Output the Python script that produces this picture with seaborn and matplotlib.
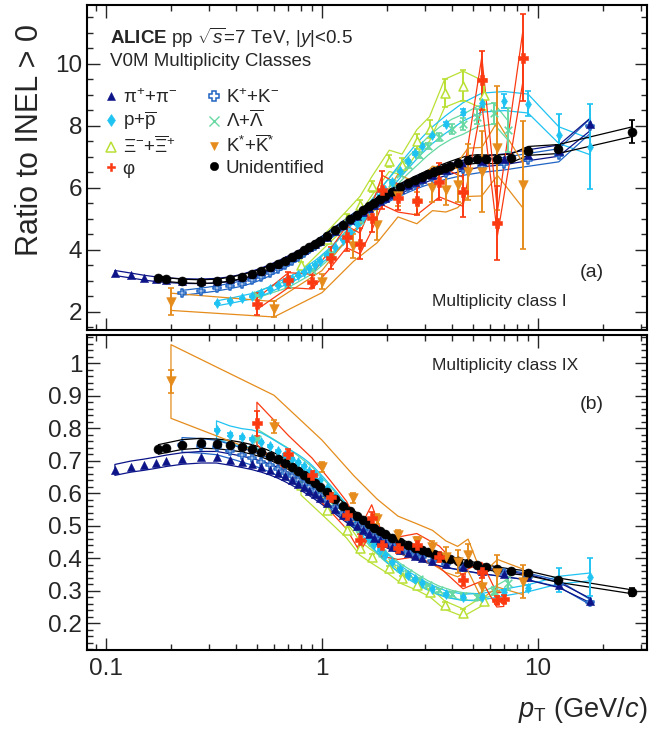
import numpy as np
import pandas as pd
import matplotlib
matplotlib.use("Agg")
import matplotlib.pyplot as plt
import seaborn as sns
from matplotlib.lines import Line2D
from matplotlib.ticker import FixedLocator, MultipleLocator, NullFormatter, LogLocator

# ---- data: class I (top) and class IX (bottom), ratio to INEL>0 ----
pi_pt = [0.11, 0.13, 0.15, 0.17, 0.19, 0.225, 0.275, 0.325, 0.375, 0.425, 0.475, 0.525, 0.575, 0.625,
         0.675, 0.725, 0.775, 0.825, 0.875, 0.925, 0.975, 1.05, 1.15, 1.25, 1.35, 1.45, 1.55, 1.65,
         1.75, 1.85, 1.95, 2.1, 2.3, 2.5, 2.7, 2.9, 3.25, 3.75, 4.5, 5.5, 7.0, 9.0, 12.5, 17.5]
pi_top = [3.25, 3.17, 3.10, 3.05, 3.02, 2.99, 2.98, 3.00, 3.05, 3.13, 3.23, 3.33, 3.44, 3.55,
          3.66, 3.77, 3.87, 3.98, 4.08, 4.18, 4.28, 4.42, 4.62, 4.80, 4.96, 5.10, 5.23, 5.35,
          5.46, 5.56, 5.66, 5.79, 5.95, 6.08, 6.19, 6.29, 6.42, 6.56, 6.72, 6.85, 6.92, 7.05, 7.20, 8.05]
pi_bot = [0.672, 0.682, 0.688, 0.694, 0.700, 0.707, 0.711, 0.711, 0.704, 0.697, 0.690, 0.682, 0.673, 0.663,
          0.652, 0.641, 0.630, 0.619, 0.608, 0.597, 0.586, 0.570, 0.551, 0.532, 0.515, 0.500, 0.487, 0.475,
          0.464, 0.455, 0.447, 0.436, 0.425, 0.416, 0.408, 0.401, 0.392, 0.382, 0.372, 0.362, 0.352, 0.342, 0.318, 0.270]

k_pt = [0.225, 0.275, 0.325, 0.375, 0.425, 0.475, 0.525, 0.575, 0.625, 0.675, 0.725, 0.775, 0.825,
        0.875, 0.925, 0.975, 1.05, 1.15, 1.25, 1.35, 1.45, 1.55, 1.65, 1.75, 1.85, 1.95,
        2.1, 2.3, 2.5, 2.7, 2.9, 3.25, 3.75, 4.5, 5.5, 7.0, 9.0, 12.5, 17.5]
k_top = [2.61, 2.68, 2.75, 2.83, 2.91, 3.01, 3.13, 3.26, 3.39, 3.52, 3.65, 3.78, 3.90,
         4.02, 4.13, 4.24, 4.40, 4.60, 4.78, 4.95, 5.10, 5.23, 5.35, 5.46, 5.56, 5.65,
         5.77, 5.91, 6.03, 6.13, 6.22, 6.34, 6.47, 6.60, 6.70, 6.78, 6.90, 7.05, 8.00]
k_bot = [0.749, 0.746, 0.741, 0.729, 0.718, 0.708, 0.697, 0.686, 0.675, 0.664, 0.653, 0.641, 0.630,
         0.618, 0.607, 0.596, 0.579, 0.559, 0.540, 0.522, 0.507, 0.493, 0.481, 0.470, 0.460, 0.451,
         0.440, 0.428, 0.418, 0.410, 0.403, 0.393, 0.383, 0.373, 0.363, 0.354, 0.344, 0.322, 0.265]

p_pt = [0.325, 0.375, 0.425, 0.475, 0.525, 0.575, 0.625, 0.675, 0.725, 0.775, 0.825, 0.875, 0.925,
        0.975, 1.05, 1.15, 1.25, 1.35, 1.45, 1.55, 1.65, 1.75, 1.85, 1.95, 2.1, 2.3, 2.5, 2.7, 2.9,
        3.25, 3.75, 4.5, 5.5, 7.0, 9.0, 12.5, 17.5]
p_top = [2.27, 2.35, 2.43, 2.50, 2.60, 2.72, 2.85, 2.97, 3.06, 3.17, 3.29, 3.40, 3.52,
         3.64, 3.83, 4.08, 4.33, 4.58, 4.83, 5.07, 5.30, 5.52, 5.73, 5.93, 6.20, 6.55, 6.85, 7.12, 7.36,
         7.70, 8.05, 8.45, 8.75, 8.80, 8.72, 7.70, 7.32]
p_top_err = [0.02, 0.02, 0.02, 0.02, 0.02, 0.02, 0.02, 0.02, 0.02, 0.02, 0.02, 0.02, 0.02,
             0.02, 0.02, 0.02, 0.02, 0.03, 0.03, 0.03, 0.03, 0.03, 0.03, 0.04, 0.04, 0.04, 0.05, 0.05, 0.05,
             0.06, 0.07, 0.09, 0.13, 0.22, 0.40, 0.67, 1.37]
p_bot = [0.795, 0.780, 0.772, 0.768, 0.759, 0.745, 0.731, 0.718, 0.706, 0.695, 0.683, 0.670, 0.655,
         0.640, 0.617, 0.588, 0.560, 0.533, 0.508, 0.485, 0.463, 0.443, 0.425, 0.409, 0.388, 0.366, 0.349,
         0.335, 0.323, 0.306, 0.290, 0.280, 0.282, 0.295, 0.308, 0.333, 0.343]
p_bot_err = [0.004, 0.004, 0.004, 0.003, 0.003, 0.003, 0.003, 0.003, 0.003, 0.003, 0.003, 0.003, 0.003,
             0.003, 0.003, 0.003, 0.003, 0.003, 0.003, 0.003, 0.003, 0.003, 0.003, 0.003, 0.003, 0.003, 0.003,
             0.003, 0.003, 0.003, 0.004, 0.004, 0.005, 0.007, 0.010, 0.036, 0.058]

lam_pt = [0.5, 0.7, 0.9, 1.1, 1.3, 1.5, 1.7, 1.9, 2.1, 2.3, 2.5, 2.8, 3.1, 3.5, 4.0, 4.5, 5.25, 6.25, 7.25]
lam_top = [2.55, 2.90, 3.35, 3.90, 4.45, 4.95, 5.40, 5.80, 6.15, 6.45, 6.72, 7.05, 7.35, 7.65, 7.90,
           8.05, 8.30, 8.40, 7.86]
lam_top_err = [0.02, 0.02, 0.03, 0.03, 0.04, 0.05, 0.05, 0.06, 0.07, 0.08, 0.09, 0.10, 0.11, 0.13, 0.16,
               0.20, 0.25, 0.35, 0.70]
lam_bot = [0.767, 0.710, 0.655, 0.595, 0.540, 0.490, 0.450, 0.415, 0.390, 0.370, 0.355, 0.335, 0.318,
           0.302, 0.290, 0.283, 0.280, 0.300, 0.323]
lam_bot_err = [0.004, 0.003, 0.003, 0.003, 0.003, 0.003, 0.003, 0.003, 0.003, 0.003, 0.004, 0.004, 0.004,
               0.005, 0.006, 0.007, 0.008, 0.012, 0.020]

xi_pt = [0.8, 1.05, 1.3, 1.5, 1.7, 2.05, 2.35, 2.75, 3.15, 3.7, 4.5, 5.6]
xi_top = [3.50, 4.35, 5.00, 5.45, 6.05, 6.87, 6.75, 7.50, 7.90, 9.05, 9.30, 9.00]
xi_top_err = [0.12, 0.12, 0.14, 0.15, 0.17, 0.20, 0.22, 0.25, 0.30, 0.45, 0.50, 0.50]
xi_bot = [0.626, 0.549, 0.487, 0.431, 0.405, 0.369, 0.338, 0.318, 0.297, 0.256, 0.233, 0.270]
xi_bot_err = [0.010, 0.008, 0.008, 0.007, 0.007, 0.007, 0.007, 0.007, 0.008, 0.009, 0.010, 0.015]

kst_pt = [0.2, 0.6, 1.0, 1.4, 1.8, 2.25, 2.75, 3.25, 3.75, 4.25, 4.75, 5.5, 6.5, 8.5]
kst_top = [2.32, 2.08, 2.97, 4.12, 4.80, 5.75, 5.50, 5.98, 5.93, 6.09, 6.50, 6.52, 7.27, 6.09]
kst_top_err = [0.43, 0.25, 0.25, 0.40, 0.50, 0.35, 0.35, 0.45, 0.50, 0.55, 0.90, 1.30, 2.00, 2.05]
kst_bot = [0.944, 0.805, 0.682, 0.585, 0.520, 0.473, 0.452, 0.434, 0.405, 0.390, 0.410, 0.313, 0.354, 0.328]
kst_bot_err = [0.035, 0.020, 0.015, 0.015, 0.015, 0.015, 0.015, 0.020, 0.030, 0.035, 0.035, 0.040, 0.055, 0.050]

phi_pt_top = [0.5, 0.7, 0.9, 1.1, 1.3, 1.5, 1.7, 1.9, 2.25, 2.75, 3.5, 4.5, 5.5, 6.5, 8.5]
phi_top = [2.25, 3.02, 2.97, 3.73, 4.42, 4.20, 5.02, 5.93, 5.67, 5.57, 6.20, 5.87, 9.47, 4.86, 10.2]
phi_top_err = [0.35, 0.25, 0.20, 0.35, 0.45, 0.50, 0.45, 0.60, 0.40, 0.45, 0.60, 0.80, 0.95, 1.20, 1.40]
phi_pt_bot = [0.5, 0.7, 0.9, 1.1, 1.3, 1.5, 1.7, 1.9, 2.25, 2.75, 3.5, 4.5, 5.5, 6.45, 6.95]
phi_bot = [0.815, 0.720, 0.656, 0.590, 0.533, 0.456, 0.523, 0.441, 0.431, 0.441, 0.405, 0.333, 0.359, 0.272, 0.274]
phi_bot_err = [0.038, 0.015, 0.012, 0.012, 0.015, 0.020, 0.020, 0.020, 0.015, 0.015, 0.015, 0.018, 0.020, 0.012, 0.012]

uid_pt = [0.175, 0.19, 0.225, 0.275, 0.325, 0.375, 0.425, 0.475, 0.525, 0.575, 0.625, 0.675, 0.725, 0.775,
          0.825, 0.875, 0.925, 0.975, 1.05, 1.15, 1.25, 1.35, 1.45, 1.55, 1.65, 1.75, 1.85, 1.95,
          2.1, 2.3, 2.5, 2.7, 2.9, 3.1, 3.3, 3.5, 3.7, 3.9, 4.25, 4.75, 5.25, 5.75, 6.5, 7.5, 9.0, 12.4, 27.3]
uid_top = [3.10, 3.04, 2.99, 2.97, 2.99, 3.05, 3.13, 3.22, 3.32, 3.43, 3.54, 3.65, 3.76, 3.87,
           3.98, 4.09, 4.19, 4.29, 4.44, 4.63, 4.81, 4.98, 5.13, 5.27, 5.40, 5.52, 5.63, 5.73,
           5.86, 6.01, 6.14, 6.25, 6.35, 6.44, 6.52, 6.59, 6.65, 6.71, 6.80, 6.90, 6.93, 6.92, 6.92, 6.95,
           7.19, 7.25, 7.81]
uid_top_err = [0, 0, 0, 0, 0, 0, 0, 0, 0, 0, 0, 0, 0, 0,
               0, 0, 0, 0, 0, 0, 0, 0, 0, 0, 0, 0, 0, 0,
               0, 0, 0, 0, 0, 0, 0, 0, 0, 0, 0.02, 0.02, 0.03, 0.03, 0.04, 0.05, 0.08, 0.12, 0.37]
uid_bot = [0.735, 0.740, 0.750, 0.754, 0.752, 0.748, 0.742, 0.735, 0.726, 0.716, 0.705, 0.693, 0.681, 0.669,
           0.656, 0.644, 0.632, 0.620, 0.603, 0.582, 0.562, 0.545, 0.530, 0.517, 0.505, 0.494, 0.484, 0.475,
           0.463, 0.451, 0.441, 0.432, 0.425, 0.418, 0.412, 0.407, 0.402, 0.398, 0.392, 0.385, 0.378, 0.373,
           0.366, 0.360, 0.354, 0.333, 0.297]
uid_bot_err = [0, 0, 0, 0, 0, 0, 0, 0, 0, 0, 0, 0, 0, 0,
               0, 0, 0, 0, 0, 0, 0, 0, 0, 0, 0, 0, 0, 0,
               0, 0, 0, 0, 0, 0, 0, 0, 0, 0, 0.002, 0.002, 0.002, 0.003, 0.003, 0.003, 0.004, 0.006, 0.012]

# relative systematic uncertainty (drawn as open boxes)
sys_frac = {"pi": 0.025, "k": 0.03, "p": 0.035, "lam": 0.04, "xi": 0.05, "kst": 0.12, "phi": 0.08, "uid": 0.02}

sns.set_style("ticks", {"xtick.direction": "in", "ytick.direction": "in"})
plt.rcParams['font.family'] = ['Liberation Sans', 'DejaVu Sans']
plt.rcParams['mathtext.fontset'] = 'custom'
plt.rcParams['mathtext.rm'] = 'Liberation Sans'
plt.rcParams['mathtext.it'] = 'Liberation Sans:italic'
plt.rcParams['mathtext.bf'] = 'Liberation Sans:bold'

# species: key, label, colour, marker, size, open?
species = [
    ("xi", r"Ξ$^{-}$+$\overline{\mathrm{Ξ}}^{+}$", "#b9e034", "^", 42, True),
    ("lam", r"Λ+$\overline{\mathrm{Λ}}$", "#66d8a2", "x", 30, False),
    ("p", r"p+$\overline{\mathrm{p}}$", "#1fc3f2", "d", 26, False),
    ("k", r"K$^{+}$+K$^{-}$", "#1f64c4", "P", 40, True),
    ("pi", r"π$^{+}$+π$^{-}$", "#0c1488", "^", 34, False),
    ("uid", "Unidentified", "black", "o", 42, False),
    ("kst", r"K$^{*}$+$\overline{\mathrm{K}}^{*}$", "#e58c1c", "v", 48, False),
    ("phi", r"φ", "#fb3a12", "P", 60, False),
]

data = {
    "pi": (pi_pt, pi_top, None, pi_pt, pi_bot, None),
    "k": (k_pt, k_top, None, k_pt, k_bot, None),
    "p": (p_pt, p_top, p_top_err, p_pt, p_bot, p_bot_err),
    "lam": (lam_pt, lam_top, lam_top_err, lam_pt, lam_bot, lam_bot_err),
    "xi": (xi_pt, xi_top, xi_top_err, xi_pt, xi_bot, xi_bot_err),
    "kst": (kst_pt, kst_top, kst_top_err, kst_pt, kst_bot, kst_bot_err),
    "phi": (phi_pt_top, phi_top, phi_top_err, phi_pt_bot, phi_bot, phi_bot_err),
    "uid": (uid_pt, uid_top, uid_top_err, uid_pt, uid_bot, uid_bot_err),
}

fig = plt.figure(figsize=(6.52, 7.3), dpi=100)
ax1 = fig.add_axes([87 / 652, 1 - 330 / 730, 560 / 652, 325 / 730])
ax2 = fig.add_axes([87 / 652, 1 - 650 / 730, 560 / 652, 315 / 730])

for panel, ax in enumerate([ax1, ax2]):
    for key, label, col, mk, sz, is_open in species:
        rec = data[key]
        pt, val, err = (rec[0], rec[1], rec[2]) if panel == 0 else (rec[3], rec[4], rec[5])
        df = pd.DataFrame({"pt": pt, "val": val})
        lo = df["val"] * (1 - sys_frac[key])
        hi = df["val"] * (1 + sys_frac[key])
        ax.fill_between(df["pt"], lo, hi, facecolor="none", edgecolor=col, lw=0.9, zorder=2)
        if err is not None:
            ax.errorbar(df["pt"], df["val"], yerr=err, fmt="none", ecolor=col, elinewidth=1.4,
                        capsize=2, capthick=1.2, zorder=3)
        if mk == "x":
            sns.scatterplot(data=df, x="pt", y="val", ax=ax, marker=mk, s=sz, color=col,
                            linewidth=1.2, legend=False, zorder=4)
        elif is_open:
            sns.scatterplot(data=df, x="pt", y="val", ax=ax, marker=mk, s=sz, facecolor="white",
                            edgecolor=col, linewidth=1.1, legend=False, zorder=4)
        else:
            sns.scatterplot(data=df, x="pt", y="val", ax=ax, marker=mk, s=sz, color=col,
                            edgecolor=col, linewidth=0.4, legend=False, zorder=4)

for ax in [ax1, ax2]:
    ax.set_xscale("log")
    ax.set_xlim(0.0817, 32)
    ax.set_xlabel("")
    ax.set_ylabel("")
    ax.set_xticks([0.1, 1, 10])
    ax.xaxis.set_minor_locator(LogLocator(base=10, subs=np.arange(2, 10)))
    ax.xaxis.set_minor_formatter(NullFormatter())
    ax.tick_params(which="both", direction="in", top=True, right=True, width=1.0)
    ax.tick_params(which="major", length=9, labelsize=17.5)
    ax.tick_params(which="minor", length=4.5)
    for s in ax.spines.values():
        s.set_linewidth(1.5)
        s.set_color("black")

ax1.set_ylim(1.41, 11.9)
ax1.set_yticks([2, 4, 6, 8, 10])
ax1.yaxis.set_minor_locator(MultipleLocator(0.5))
ax1.set_xticklabels([])

ax2.set_ylim(0.118, 1.087)
ax2.set_yticks([0.2, 0.3, 0.4, 0.5, 0.6, 0.7, 0.8, 0.9, 1.0])
ax2.set_yticklabels(["0.2", "0.3", "0.4", "0.5", "0.6", "0.7", "0.8", "0.9", "1"])
ax2.yaxis.set_minor_locator(MultipleLocator(0.02))
ax2.set_xticklabels(["0.1", "1", "10"])
ax2.tick_params(axis="x", pad=6)

# legend, 2 columns, column-wise order
lookup = {s[0]: s for s in species}
handles = []
labels = []
for key in ["pi", "p", "xi", "phi", "k", "lam", "kst", "uid"]:
    _, label, col, mk, sz, is_open = lookup[key]
    if is_open:
        h = Line2D([], [], ls="none", marker=mk, markersize=6.5, markerfacecolor="white",
                   markeredgecolor=col, markeredgewidth=1.1)
    else:
        h = Line2D([], [], ls="none", marker=mk, markersize=6 if mk != "x" else 6.5,
                   color=col, markeredgewidth=1.0 if mk == "x" else 0.4)
    handles.append(h)
    labels.append(label)
ax1.legend(handles, labels, loc="upper left", bbox_to_anchor=(0.03, 0.745), ncol=2, frameon=False,
           fontsize=13.5, handlelength=0.8, handletextpad=0.2, columnspacing=1.6, labelspacing=0.17,
           borderpad=0, borderaxespad=0)

ax1.text(0.041, 0.898, r"$\mathbf{ALICE}$ pp $\sqrt{s}$=7 TeV, |$y$|<0.5", transform=ax1.transAxes,
         fontsize=13.5, va="center", ha="left")
ax1.text(0.041, 0.825, "V0M Multiplicity Classes", transform=ax1.transAxes, fontsize=13.5,
         va="center", ha="left")
ax1.text(0.902, 0.178, "(a)", transform=ax1.transAxes, fontsize=14, va="center", ha="center")
ax1.text(0.616, 0.089, "Multiplicity class I", transform=ax1.transAxes, fontsize=12.5,
         va="center", ha="left")
ax2.text(0.616, 0.902, "Multiplicity class IX", transform=ax2.transAxes, fontsize=12.5,
         va="center", ha="left")
ax2.text(0.902, 0.778, "(b)", transform=ax2.transAxes, fontsize=14, va="center", ha="center")

fig.text(0.046, 1 - 140 / 730, "Ratio to INEL > 0", rotation=90, fontsize=22, va="center", ha="center")
fig.text(0.993, 0.027, r"$p_{\mathrm{T}}$ (GeV/$c$)", fontsize=19.5, va="center", ha="right")

fig.savefig("out.png", dpi=100)
